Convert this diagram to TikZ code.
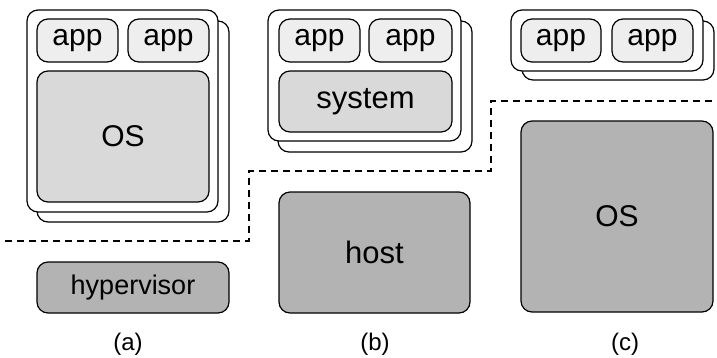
\documentclass[tikz,border=0pt]{standalone}
\usepackage{fontspec}
\setmainfont{Liberation Sans}
\definecolor{appfill}{HTML}{EEEEEE}
\definecolor{guestfill}{HTML}{D9D9D9}
\definecolor{hostfill}{HTML}{B3B3B3}
\begin{document}
\begin{tikzpicture}[x=1pt,y=-1pt,
  box/.style={draw, line width=1.2pt, rounded corners=11pt, inner sep=0pt},
  shell/.style={box, fill=white},
  appbox/.style={box, fill=appfill, minimum height=43pt, font=\fontsize{30}{30}\selectfont},
  guest/.style={box, fill=guestfill},
  hostbox/.style={box, fill=hostfill},
  caption/.style={font=\fontsize{24}{24}\selectfont},
  divider/.style={line width=1.8pt, dash pattern=on 7pt off 5pt}]
\useasboundingbox (0,0) rectangle (717,357);

% (a) virtual machines on a hypervisor
\node[shell, minimum width=192pt, minimum height=201pt] (aback) at (133,121.5) {};
\node[shell, minimum width=191pt, minimum height=202pt] (afront) at (122.5,111) {};
\node[appbox, minimum width=81pt] (aapp1) at (77.5,40.5) {app};
\node[appbox, minimum width=81pt] (aapp2) at (168.5,40.5) {app};
\node[guest, minimum width=172pt, minimum height=131pt, font=\fontsize{30}{30}\selectfont] (aos) at (123,136.5) {OS};
\node[hostbox, minimum width=192pt, minimum height=51pt, font=\fontsize{27}{27}\selectfont] (hyp) at (133,287.5) {hypervisor};
\node[caption] (la) at (128,344) {(a)};

% (b) system containers on a host
\node[shell, minimum width=194pt, minimum height=131pt] (bback) at (375,86.5) {};
\node[shell, minimum width=193pt, minimum height=131pt] (bfront) at (364.5,75.5) {};
\node[appbox, minimum width=81pt] (bapp1) at (319.5,40.5) {app};
\node[appbox, minimum width=83pt] (bapp2) at (410.5,40.5) {app};
\node[guest, minimum width=173pt, minimum height=61pt, font=\fontsize{31}{31}\selectfont] (sys) at (365.5,101.5) {system};
\node[hostbox, minimum width=191pt, minimum height=121pt, font=\fontsize{31}{31}\selectfont] (host) at (374.5,252.5) {host};
\node[caption] (lb) at (375,344) {(b)};

% (c) application containers on the OS
\node[shell, minimum width=192pt, minimum height=59pt] (cback) at (618,50.5) {};
\node[shell, minimum width=192pt, minimum height=61pt] (cfront) at (607,40.5) {};
\node[appbox, minimum width=80pt] (capp1) at (561,40.5) {app};
\node[appbox, minimum width=81pt] (capp2) at (652.5,40.5) {app};
\node[hostbox, minimum width=192pt, minimum height=191pt, font=\fontsize{30}{30}\selectfont] (cos) at (617,216.5) {OS};
\node[caption] (lc) at (625,344) {(c)};

% boundary between guest and host layers
\draw[divider] (5,241) -- (249,241) -- (249,171) -- (491,171) -- (491,101) -- (717,101);
\end{tikzpicture}
\end{document}
